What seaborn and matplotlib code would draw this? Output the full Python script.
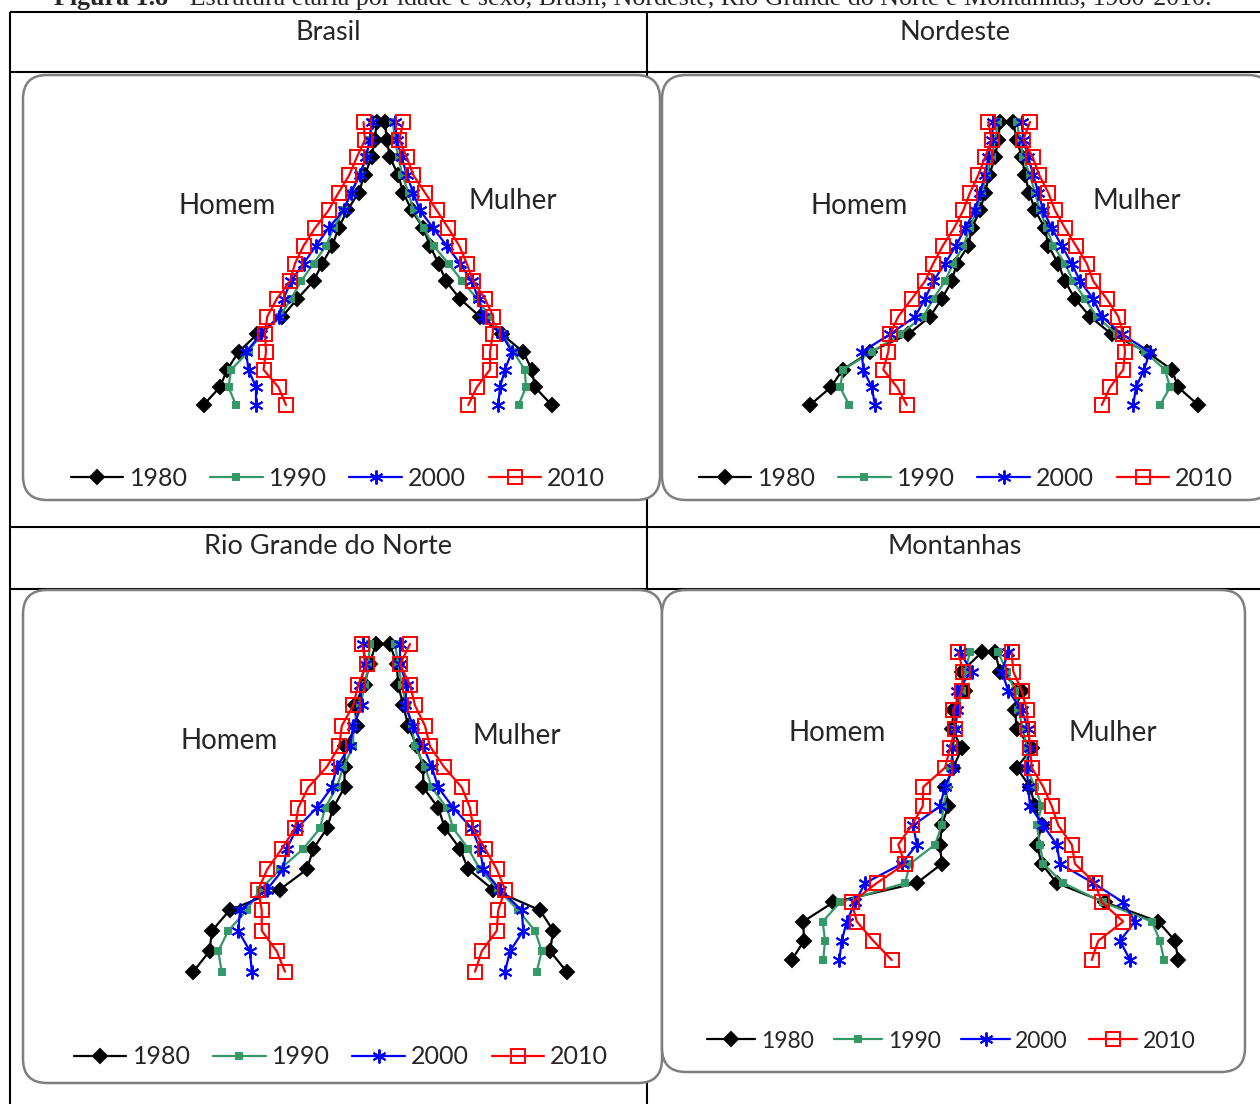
import pandas as pd
import matplotlib
matplotlib.use("Agg")
import matplotlib.pyplot as plt
import seaborn as sns
from matplotlib.lines import Line2D
from matplotlib.patches import FancyBboxPatch

# Grupos de idade (de baixo para cima) e anos censitarios
idades = ['0-4', '5-9', '10-14', '15-19', '20-24', '25-29', '30-34', '35-39', '40-44',
          '45-49', '50-54', '55-59', '60-64', '65-69', '70-74', '75-79', '80+']
anos = [1980, 1990, 2000, 2010]

# Percentual da populacao por grupo de idade
brasil_homem = {
    1980: [7.1, 6.45, 6.15, 5.7, 4.95, 3.95, 3.35, 2.7, 2.35, 1.95, 1.7, 1.35, 0.9, 0.65, 0.38, 0.25, 0.17],
    1990: [5.8, 6.1, 6.0, 5.3, 4.8, 4.05, 3.6, 3.2, 2.7, 2.2, 1.9, 1.5, 1.2, 0.85, 0.6, 0.45, 0.37],
    2000: [5.0, 5.0, 5.3, 5.4, 4.8, 4.1, 3.9, 3.6, 3.1, 2.6, 2.1, 1.5, 1.2, 0.85, 0.6, 0.45, 0.38],
    2010: [3.8, 4.1, 4.7, 4.6, 4.64, 4.55, 4.17, 3.64, 3.44, 3.1, 2.64, 2.1, 1.7, 1.27, 0.97, 0.64, 0.7],
}
brasil_mulher = {
    1980: [6.83, 6.16, 6.03, 5.69, 4.83, 3.96, 3.16, 2.6, 2.3, 1.96, 1.69, 1.23, 0.89, 0.69, 0.36, 0.23, 0.16],
    1990: [5.5, 5.8, 5.75, 5.3, 4.85, 4.35, 3.85, 3.25, 2.7, 2.1, 1.7, 1.3, 1.1, 0.85, 0.7, 0.55, 0.48],
    2000: [4.69, 4.76, 4.96, 5.23, 4.83, 4.09, 3.9, 3.63, 3.16, 2.63, 2.09, 1.56, 1.29, 1.03, 0.83, 0.63, 0.56],
    2010: [3.49, 3.83, 4.36, 4.36, 4.47, 4.49, 4.16, 3.69, 3.43, 3.13, 2.69, 2.23, 1.76, 1.29, 1.03, 0.73, 0.89],
}
nordeste_homem = {
    1980: [7.86, 7.03, 6.55, 5.46, 3.93, 3.06, 2.59, 2.19, 1.99, 1.53, 1.39, 1.06, 0.86, 0.69, 0.46, 0.33, 0.26],
    1990: [6.29, 6.66, 6.53, 5.39, 4.26, 3.33, 2.93, 2.46, 2.13, 1.73, 1.46, 1.19, 0.99, 0.79, 0.59, 0.46, 0.33],
    2000: [5.26, 5.39, 5.73, 5.79, 4.66, 3.66, 3.26, 2.93, 2.46, 2.02, 1.66, 1.26, 1.06, 0.86, 0.73, 0.59, 0.53],
    2010: [3.99, 4.37, 4.93, 4.73, 4.66, 4.33, 3.79, 3.26, 2.93, 2.55, 2.1, 1.73, 1.46, 1.13, 0.86, 0.59, 0.73],
}
nordeste_mulher = {
    1980: [7.67, 6.87, 6.61, 5.61, 4.21, 3.34, 2.74, 2.34, 2.07, 1.67, 1.54, 1.14, 0.91, 0.74, 0.62, 0.41, 0.27],
    1990: [6.14, 6.54, 6.34, 5.54, 4.41, 3.61, 3.14, 2.67, 2.34, 1.87, 1.61, 1.34, 1.14, 0.94, 0.67, 0.54, 0.41],
    2000: [5.07, 5.18, 5.5, 5.74, 4.61, 3.81, 3.47, 2.94, 2.61, 2.21, 1.81, 1.47, 1.27, 1.07, 0.87, 0.67, 0.61],
    2010: [3.81, 4.14, 4.67, 4.74, 4.67, 4.47, 4.01, 3.47, 3.21, 2.78, 2.34, 1.94, 1.67, 1.31, 1.05, 0.67, 0.94],
}
rn_homem = {
    1980: [7.55, 6.9, 6.8, 6.1, 4.1, 3.0, 2.75, 2.2, 1.95, 1.5, 1.5, 1.5, 1.0, 1.1, 0.7, 0.5, 0.25],
    1990: [6.41, 6.55, 6.15, 5.41, 4.88, 4.08, 3.15, 2.48, 2.28, 1.81, 1.55, 1.15, 1.15, 0.88, 0.68, 0.55, 0.48],
    2000: [5.21, 5.28, 5.75, 5.68, 4.61, 3.95, 3.81, 3.41, 2.61, 2.01, 1.81, 1.28, 1.15, 0.81, 0.88, 0.68, 0.75],
    2010: [3.88, 4.21, 4.81, 4.81, 4.95, 4.59, 4.01, 3.48, 3.35, 2.95, 2.21, 1.71, 1.61, 1.15, 0.95, 0.61, 0.81],
}
rn_mulher = {
    1980: [7.39, 6.72, 6.85, 6.32, 4.45, 3.45, 3.12, 2.52, 2.25, 1.65, 1.65, 1.39, 1.05, 0.85, 0.65, 0.59, 0.32],
    1990: [6.19, 6.39, 6.12, 5.45, 4.65, 3.92, 3.45, 2.85, 2.59, 1.99, 1.72, 1.32, 1.19, 0.99, 0.79, 0.65, 0.52],
    2000: [4.92, 5.12, 5.65, 5.59, 4.72, 4.05, 3.92, 3.59, 2.85, 2.25, 1.99, 1.65, 1.25, 0.92, 0.99, 0.72, 0.72],
    2010: [3.72, 3.99, 4.59, 4.65, 4.92, 4.59, 4.12, 3.65, 3.52, 3.19, 2.48, 1.92, 1.72, 1.32, 1.12, 0.72, 1.12],
}
montanhas_homem = {
    1980: [7.87, 7.38, 7.41, 6.21, 2.87, 1.87, 1.94, 1.87, 1.61, 1.74, 1.41, 1.07, 1.45, 1.41, 0.94, 1.07, 0.27],
    1990: [6.61, 6.54, 6.63, 5.94, 3.34, 3.14, 2.14, 1.87, 1.81, 1.61, 1.54, 1.41, 1.34, 1.21, 1.07, 0.94, 0.74],
    2000: [5.97, 5.87, 5.67, 5.34, 4.94, 3.47, 2.87, 3.01, 1.94, 1.74, 1.41, 1.47, 1.34, 1.27, 1.27, 0.67, 1.14],
    2010: [3.87, 4.61, 5.27, 5.47, 4.47, 3.34, 3.61, 3.07, 2.63, 2.61, 1.74, 1.54, 1.34, 1.41, 1.07, 1.01, 1.21],
}
montanhas_mulher = {
    1980: [7.59, 7.46, 6.79, 4.66, 2.73, 2.13, 1.93, 2.13, 1.86, 1.66, 1.13, 1.73, 1.13, 1.06, 1.33, 0.46, 0.26],
    1990: [7.02, 6.86, 6.53, 4.59, 2.99, 2.19, 2.06, 1.93, 2.13, 1.86, 1.53, 1.53, 1.39, 1.19, 1.06, 0.73, 0.39],
    2000: [5.66, 5.26, 5.86, 5.39, 4.19, 2.86, 2.73, 2.19, 1.66, 1.59, 1.53, 1.66, 1.59, 1.33, 0.79, 0.53, 0.79],
    2010: [4.13, 4.39, 5.39, 4.53, 4.26, 3.46, 3.33, 2.79, 2.53, 2.19, 1.73, 1.66, 1.59, 1.53, 1.33, 0.99, 0.93],
}

titulos = ['Brasil', 'Nordeste', 'Rio Grande do Norte', 'Montanhas']

# Estilo de cada ano (cor, marcador, tamanho, preenchimento)
cores = {1980: 'black', 1990: '#339966', 2000: '#0000ff', 2010: '#ff0000'}
marcadores = {1980: 'D', 1990: 's', 2000: (6, 2, 0), 2010: 's'}
tamanhos = {1980: 7.5, 1990: 4, 2000: 10, 2010: 10}
preench = {1980: 'black', 1990: '#339966', 2000: '#0000ff', 2010: 'none'}


def tabela(homem, mulher):
    linhas = []
    for ano in anos:
        for i, idade in enumerate(idades):
            linhas.append({'ano': ano, 'sexo': 'Homem', 'idade': idade, 'pct': -homem[ano][i]})
        for i, idade in enumerate(idades):
            linhas.append({'ano': ano, 'sexo': 'Mulher', 'idade': idade, 'pct': mulher[ano][i]})
    df = pd.DataFrame(linhas)
    df['pos'] = pd.Categorical(df['idade'], categories=idades).codes
    return df


sns.set_theme(style='white')
plt.rcParams['font.family'] = ['Lato', 'DejaVu Sans']

W, H = 1260, 1104
PX = 25.0  # pixels por ponto percentual
fig = plt.figure(figsize=(W / 100, H / 100), dpi=100)
fundo = fig.add_axes([0, 0, 1, 1])
fundo.set_xlim(0, W)
fundo.set_ylim(H, 0)
fundo.axis('off')

# titulo da figura (cortado no topo, como no original)
fundo.text(168, 5, 'Figura 1.8', ha='right', va='baseline', fontsize=18.7,
           fontweight='bold', family='Liberation Serif')
fundo.text(168, 5, ' - Estrutura etária por idade e sexo, Brasil, Nordeste, Rio Grande do Norte e Montanhas, 1980-2010.',
           ha='left', va='baseline', fontsize=18.7, family='Liberation Serif')

# linhas da tabela
lk = dict(color='black', lw=1.5, solid_capstyle='butt')
fundo.plot([10, 10], [12, H], **lk)
fundo.plot([647, 647], [12, H], **lk)
for yy in [12, 72, 527, 589]:
    fundo.plot([10, W], [yy, yy], **lk)

# cabecalhos
cab = [(328, 33), (955, 33), (328, 547), (955, 547)]
for (cx, cy), t in zip(cab, titulos):
    fundo.text(cx, cy, t, ha='center', va='center', fontsize=19.5)

# caixas arredondadas dos graficos: (x0, y_topo, x1, y_base)
caixas = [(23, 75, 660, 500), (662, 75, 1272, 500), (23, 590, 662, 1083), (662, 590, 1245, 1072)]
centros = [381, 1006.5, 382, 988.5]
linha0 = [405, 405, 971.7, 960]
linha16 = [122, 122, 644, 652.3]
rot_h = [(227, 206), (859, 206), (229, 741), (837, 733)]
rot_m = [(513, 201), (1137, 201), (517, 736), (1113, 733)]
legs = [(338, 478, 18), (966, 478, 18), (341, 1057, 18), (951, 1041, 16.5)]
dados = [(brasil_homem, brasil_mulher), (nordeste_homem, nordeste_mulher),
         (rn_homem, rn_mulher), (montanhas_homem, montanhas_mulher)]

r = 24
for k, (x0, yt, x1, yb) in enumerate(caixas):
    caixa = FancyBboxPatch((x0 + r, yt + r), x1 - x0 - 2 * r, yb - yt - 2 * r,
                           boxstyle=f'round,pad={r}', fc='white', ec='#7f7f7f', lw=1.8,
                           clip_on=False, zorder=2)
    fundo.add_patch(caixa)

    xr = min(x1, W)
    ax = fig.add_axes([x0 / W, 1 - yb / H, (xr - x0) / W, (yb - yt) / H])
    ax.set_facecolor('none')
    ax.axis('off')
    passo = (linha0[k] - linha16[k]) / 16
    ax.set_xlim((x0 - centros[k]) / PX, (xr - centros[k]) / PX)
    ax.set_ylim((linha0[k] - yb) / passo, (linha0[k] - yt) / passo)

    df = tabela(*dados[k])
    for ano in anos:
        sns.lineplot(data=df[df['ano'] == ano], x='pct', y='pos', units='sexo',
                     estimator=None, sort=False, ax=ax, color=cores[ano], lw=1.6,
                     marker=marcadores[ano], markersize=tamanhos[ano],
                     markerfacecolor=preench[ano], markeredgecolor=cores[ano],
                     markeredgewidth=1.4, legend=False)

    fundo.text(*rot_h[k], 'Homem', ha='center', va='center', fontsize=20, zorder=5)
    fundo.text(*rot_m[k], 'Mulher', ha='center', va='center', fontsize=20, zorder=5)

    alcas = [Line2D([], [], color=cores[a], lw=1.6, marker=marcadores[a],
                    markersize=tamanhos[a], markerfacecolor=preench[a],
                    markeredgecolor=cores[a], markeredgewidth=1.4) for a in anos]
    lx, ly, fs = legs[k]
    ax.legend(alcas, [str(a) for a in anos], loc='center', bbox_to_anchor=(lx, ly),
              bbox_transform=fundo.transData, ncol=4, frameon=False, fontsize=fs,
              handlelength=2.1, handletextpad=0.25, columnspacing=0.9)

fig.savefig('out.png', dpi=100)
